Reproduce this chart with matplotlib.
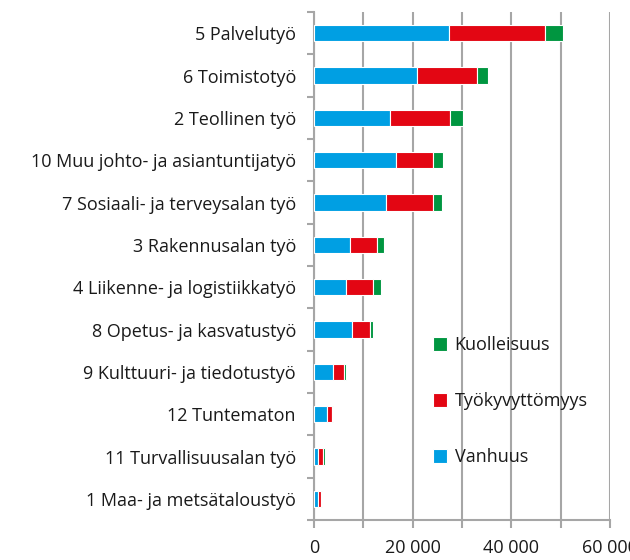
import matplotlib.pyplot as plt
import numpy as np

plt.rcParams['font.family'] = ['Open Sans', 'DejaVu Sans']

# Occupational groups, top to bottom
groups = ['5 Palvelutyö', '6 Toimistotyö', '2 Teollinen työ',
          '10 Muu johto- ja asiantuntijatyö', '7 Sosiaali- ja terveysalan työ',
          '3 Rakennusalan työ', '4 Liikenne- ja logistiikkatyö',
          '8 Opetus- ja kasvatustyö', '9 Kulttuuri- ja tiedotustyö',
          '12 Tuntematon', '11 Turvallisuusalan työ', '1 Maa- ja metsätaloustyö']
vanhuus = [27300, 20900, 15500, 16600, 14500, 7300, 6500, 7800, 3800, 2700, 750, 750]
tyokyvyttomyys = [19500, 12100, 12100, 7600, 9700, 5500, 5500, 3450, 2200, 1000, 1150, 750]
kuolleisuus = [3700, 2300, 2700, 1900, 1700, 1400, 1500, 750, 500, 150, 400, 80]

blue = '#009FE3'
red = '#E30613'
green = '#009640'
grid_col = '#A6A6A6'
txt_col = '#1A1A1A'

fig = plt.figure(figsize=(6.3, 5.6), dpi=100)
ax = fig.add_axes([314 / 630, 40 / 560, 296 / 630, 508 / 560])

y = np.arange(len(groups))
v = np.array(vanhuus)
t = np.array(tyokyvyttomyys)
k = np.array(kuolleisuus)
h = 0.38
b1 = ax.barh(y, v, height=h, color=blue, edgecolor='white', linewidth=0.8, label='Vanhuus', zorder=3)
b2 = ax.barh(y, t, left=v, height=h, color=red, edgecolor='white', linewidth=0.8, label='Työkyvyttömyys', zorder=3)
b3 = ax.barh(y, k, left=v + t, height=h, color=green, edgecolor='white', linewidth=0.8, label='Kuolleisuus', zorder=3)

ax.set_ylim(len(groups) - 0.5, -0.5)
ax.set_xlim(0, 60000)

# category labels at bar centres, tick marks between categories
ax.set_yticks(np.arange(len(groups) + 1) - 0.5)
ax.set_yticklabels([])
ax.set_yticks(y, minor=True)
ax.set_yticklabels(groups, minor=True, fontsize=13, color=txt_col)
ax.tick_params(axis='y', which='major', length=5, width=1.5, color=grid_col)
ax.tick_params(axis='y', which='minor', length=0, pad=13)

ax.set_xticks(np.arange(0, 60001, 10000))
ax.set_xticklabels(['0', '', '20 000', '', '40 000', '', '60 000'], fontsize=13, color=txt_col)
ax.tick_params(axis='x', length=6, width=1.5, color=grid_col, pad=8)
ax.xaxis.grid(True, color=grid_col, linewidth=1.5, zorder=0)

for side in ['top', 'right']:
    ax.spines[side].set_visible(False)
ax.spines['left'].set_color(grid_col)
ax.spines['left'].set_linewidth(1.5)
ax.spines['bottom'].set_color(grid_col)
ax.spines['bottom'].set_linewidth(1.5)

leg = fig.legend(handles=[b3, b2, b1], loc='center left', bbox_to_anchor=(433 / 630, 1 - 401 / 560),
                 frameon=False, fontsize=13, handlelength=0.8, handleheight=0.8,
                 labelspacing=2.1, handletextpad=0.4, borderpad=0, borderaxespad=0)
for txt in leg.get_texts():
    txt.set_color(txt_col)

fig.savefig('out.png', dpi=100)
